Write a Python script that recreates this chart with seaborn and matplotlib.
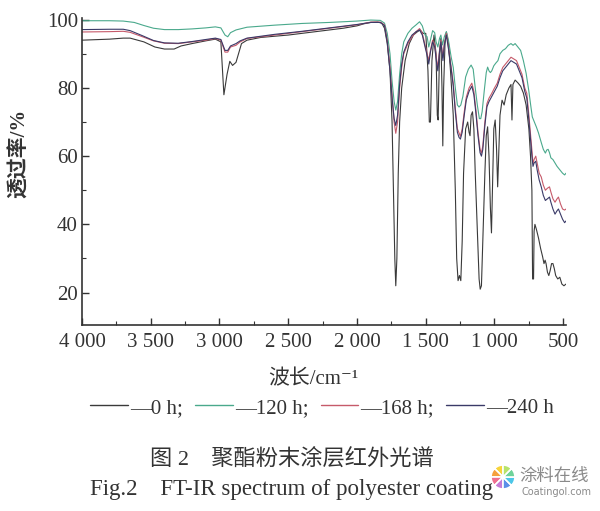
import pandas as pd
import matplotlib
matplotlib.use("Agg")
import matplotlib.pyplot as plt
from matplotlib.lines import Line2D
from matplotlib.ticker import MultipleLocator, FixedLocator, FixedFormatter
import seaborn as sns

wn_0h = [4000, 3800, 3700, 3650, 3550, 3470, 3400, 3330, 3280, 3200, 3100, 3030, 2990, 2968,
         2945, 2925, 2905, 2880, 2840, 2800, 2700, 2500, 2300, 2100, 2000, 1950, 1900, 1850,
         1820, 1800, 1780, 1760, 1745, 1735, 1725, 1718, 1710, 1700, 1690, 1675, 1650, 1620,
         1590, 1560, 1540, 1520, 1500, 1484, 1474, 1466, 1455, 1440, 1425, 1416, 1410, 1400,
         1390, 1382, 1376, 1370, 1360, 1350, 1335, 1320, 1300, 1285, 1275, 1265, 1255, 1245,
         1235, 1225, 1210, 1195, 1185, 1178, 1170, 1160, 1150, 1140, 1125, 1112, 1104, 1095,
         1085, 1070, 1060, 1050, 1040, 1030, 1022, 1015, 1005, 995, 985, 977, 970, 960, 945,
         930, 915, 895, 880, 873, 866, 850, 830, 810, 790, 770, 750, 738, 728, 723, 716, 712,
         706, 695, 680, 665, 650, 640, 632, 625, 615, 605, 595, 585, 575, 565, 555, 540, 525,
         510, 495, 480]
t_0h = [94.0, 94.3, 94.6, 94.6, 93.5, 92.0, 91.4, 91.4, 92.3, 93.0, 93.8, 94.3, 93.5, 78.0,
        84.0, 87.8, 86.6, 87.5, 93.0, 94.0, 94.8, 95.5, 96.5, 97.5, 98.2, 98.8, 99.2, 99.3,
        99.0, 97.5, 93.0, 85.0, 70.0, 50.0, 30.0, 22.0, 30.0, 55.0, 70.0, 80.0, 88.0, 93.0,
        95.5, 96.5, 97.0, 96.0, 96.0, 85.0, 70.0, 70.0, 88.0, 95.5, 90.0, 72.0, 70.6, 90.0,
        94.5, 80.0, 63.0, 80.0, 93.0, 96.4, 93.0, 85.0, 72.0, 50.0, 30.0, 23.5, 25.0, 23.5,
        35.0, 55.0, 68.0, 70.0, 67.0, 66.0, 72.0, 73.0, 68.0, 55.0, 38.0, 24.0, 21.0, 22.0,
        35.0, 55.0, 66.0, 68.6, 60.0, 45.0, 37.5, 50.0, 68.0, 70.6, 62.0, 51.0, 60.0, 72.0, 76.4,
        75.0, 78.0, 80.0, 81.0, 70.6, 81.0, 82.3, 81.5, 80.5, 78.5, 75.0, 68.0, 60.0, 50.0, 24.0,
        24.0, 38.0, 40.0, 38.5, 36.0, 33.0, 30.5, 28.5, 29.5, 28.5, 26.0, 25.0, 26.5, 28.5,
        28.5, 27.0, 25.0, 24.0, 24.5, 22.5, 22.0, 22.5]

wn_120h = [4000, 3800, 3700, 3620, 3550, 3480, 3400, 3300, 3200, 3100, 3030, 2990, 2960, 2940,
           2920, 2880, 2800, 2600, 2400, 2200, 2000, 1900, 1830, 1800, 1780, 1760, 1745, 1730,
           1718, 1705, 1690, 1675, 1660, 1630, 1600, 1570, 1545, 1525, 1505, 1490, 1478, 1466,
           1450, 1435, 1425, 1412, 1400, 1390, 1378, 1365, 1350, 1335, 1315, 1300, 1285, 1270,
           1258, 1245, 1230, 1210, 1190, 1170, 1155, 1140, 1125, 1110, 1100, 1090, 1075, 1060,
           1050, 1040, 1030, 1020, 1005, 990, 975, 960, 940, 920, 900, 880, 865, 850, 830, 810,
           790, 770, 750, 735, 725, 710, 695, 680, 660, 645, 630, 620, 610, 600, 590, 575, 560,
           545, 525, 505, 490, 480]
t_120h = [99.7, 99.7, 99.6, 99.2, 98.3, 97.5, 97.1, 97.1, 97.3, 97.6, 97.9, 97.6, 95.5, 95.0,
          96.2, 97.0, 97.8, 98.4, 98.9, 99.2, 99.6, 99.9, 99.8, 99.0, 96.0, 90.0, 82.0, 76.0,
          73.5, 76.0, 84.0, 90.0, 93.5, 96.0, 97.5, 98.5, 99.4, 98.2, 95.5, 95.0, 92.0, 94.0,
          96.8, 96.2, 93.5, 92.0, 94.5, 95.5, 92.6, 95.0, 96.5, 94.0, 89.0, 86.0, 80.0, 75.0,
          74.4, 75.0, 77.5, 83.2, 85.5, 86.7, 85.5, 80.0, 75.0, 71.0, 71.0, 73.0, 79.0, 84.5,
          86.1, 85.0, 84.5, 85.0, 86.5, 87.3, 88.0, 90.0, 91.0, 91.5, 92.5, 93.0, 92.5, 93.0,
          92.0, 91.0, 88.0, 84.3, 79.0, 74.4, 71.5, 70.0, 68.5, 66.8, 64.0, 62.0, 60.9, 61.8,
          62.0, 61.0, 59.5, 59.0, 58.0, 57.0, 56.0, 55.0, 54.5, 55.0]

wn_168h = [4000, 3800, 3700, 3650, 3560, 3480, 3400, 3300, 3200, 3100, 3030, 2990, 2960, 2940,
           2920, 2880, 2850, 2800, 2600, 2400, 2200, 2000, 1900, 1830, 1800, 1780, 1760, 1745,
           1730, 1718, 1705, 1690, 1675, 1660, 1630, 1600, 1570, 1545, 1525, 1505, 1490, 1478,
           1466, 1450, 1435, 1420, 1412, 1400, 1390, 1375, 1365, 1350, 1335, 1315, 1300, 1285,
           1270, 1258, 1248, 1235, 1220, 1205, 1185, 1165, 1150, 1135, 1120, 1105, 1095, 1085,
           1070, 1055, 1040, 1020, 1000, 980, 960, 940, 910, 880, 860, 840, 820, 800, 780, 765,
           750, 735, 728, 720, 712, 700, 690, 675, 660, 645, 630, 615, 600, 590, 575, 560, 545,
           535, 520, 505, 490, 480]
t_168h = [96.4, 96.5, 96.6, 96.3, 95.0, 93.8, 93.1, 93.0, 93.5, 94.0, 94.5, 94.0, 90.5, 90.5,
          92.0, 92.5, 93.5, 94.5, 95.5, 96.5, 97.5, 98.5, 99.3, 99.3, 98.5, 94.0, 86.0, 78.0,
          70.0, 66.7, 70.0, 80.0, 86.0, 90.0, 93.0, 95.0, 96.5, 97.4, 96.0, 92.6, 90.0, 88.1,
          91.0, 94.0, 92.6, 88.0, 86.0, 91.0, 94.0, 89.0, 93.0, 96.0, 92.0, 86.0, 81.4, 74.0,
          68.0, 66.8, 65.8, 68.0, 73.0, 77.3, 80.0, 81.4, 79.0, 73.5, 67.0, 62.0, 60.9, 63.0,
          70.0, 75.4, 77.0, 78.4, 80.0, 81.4, 84.0, 86.0, 87.5, 89.0, 88.5, 88.0, 86.0, 84.0,
          80.0, 78.4, 72.0, 65.0, 61.8, 57.9, 59.0, 60.0, 58.0, 55.0, 53.9, 51.5, 50.0, 50.6,
          51.0, 49.5, 47.5, 46.5, 47.5, 48.0, 46.0, 44.5, 44.2, 44.5]

wn_240h = wn_168h
t_240h = [97.1, 97.2, 97.2, 96.8, 95.3, 93.9, 93.2, 93.1, 93.6, 94.2, 94.6, 94.2, 91.0, 91.0,
          92.3, 93.0, 93.8, 94.6, 95.7, 96.6, 97.6, 98.6, 99.2, 99.2, 98.3, 93.5, 85.0, 77.0,
          71.0, 69.0, 72.0, 81.0, 87.0, 90.5, 93.5, 95.5, 96.5, 97.0, 95.5, 92.0, 89.5, 87.0,
          90.5, 93.5, 92.0, 87.0, 85.0, 90.5, 93.5, 88.0, 92.5, 95.5, 91.5, 85.5, 80.5, 73.0,
          67.0, 65.5, 65.0, 67.0, 72.0, 76.5, 79.0, 80.5, 78.0, 72.5, 66.0, 61.0, 60.0, 62.0,
          69.0, 74.5, 76.0, 77.5, 79.0, 80.5, 83.0, 85.0, 86.5, 88.0, 87.5, 87.0, 85.0, 83.0,
          79.0, 77.0, 70.5, 63.5, 60.0, 57.0, 58.0, 58.5, 56.0, 53.0, 51.0, 48.5, 47.0, 47.5,
          48.0, 46.5, 44.5, 43.0, 44.0, 44.5, 43.0, 41.5, 40.5, 41.0]

series = ["0 h", "120 h", "168 h", "240 h"]
colores = ["#3a3a3a", "#4aa98c", "#c65a6a", "#3a3a68"]

frames = []
for nombre, wn, t in [("0 h", wn_0h, t_0h), ("120 h", wn_120h, t_120h),
                      ("168 h", wn_168h, t_168h), ("240 h", wn_240h, t_240h)]:
    frames.append(pd.DataFrame({"wn": wn, "T": t, "serie": nombre}))
df = pd.concat(frames, ignore_index=True)

sns.set_style("ticks")
plt.rcParams['font.family'] = ['Liberation Serif', 'Noto Sans CJK SC', 'DejaVu Sans']

fig = plt.figure(figsize=(6, 5.11), dpi=100)
ax = fig.add_axes([82 / 600, 1 - 325 / 511, 484 / 600, 307 / 511])

sns.lineplot(data=df, x="wn", y="T", hue="serie", hue_order=series,
             palette=colores, sort=False, estimator=None, linewidth=0.8,
             legend=False, ax=ax)

ax.set_xlim(4000, 480)
ax.set_ylim(10.5, 100.5)
ax.set_xlabel("")
ax.set_ylabel("")
sns.despine(ax=ax)
for s in ["left", "bottom"]:
    ax.spines[s].set_linewidth(1.2)
    ax.spines[s].set_color("#333333")

ax.xaxis.set_major_locator(FixedLocator([4000, 3500, 3000, 2500, 2000, 1500, 1000, 500]))
ax.xaxis.set_major_formatter(FixedFormatter(["4 000", "3 500", "3 000", "2 500", "2 000",
                                             "1 500", "1 000", "500"]))
ax.xaxis.set_minor_locator(MultipleLocator(250))
ax.yaxis.set_major_locator(FixedLocator([20, 40, 60, 80, 100]))
ax.yaxis.set_minor_locator(MultipleLocator(10))
ax.tick_params(which="major", direction="in", length=5, width=1, colors="#333333",
               labelsize=15)
ax.tick_params(which="minor", direction="in", length=3, width=0.8, colors="#333333")
ax.tick_params(axis="x", pad=6)
ax.tick_params(axis="y", pad=3)

fig.text(20 / 600, 1 - 153 / 511, "透过率/%", rotation=90, ha="center", va="center",
         fontsize=15, color="#333333", fontweight="bold")
fig.text(313 / 600, 1 - 380 / 511, "波长/cm⁻¹", ha="center", va="center",
         fontsize=15, color="#333333")

handles = [Line2D([0], [0], color=c, lw=1.0) for c in colores]
etiquetas = ["—0 h;", "—120 h;", "—168 h;", "—240 h"]
fig.legend(handles, etiquetas, loc="center", bbox_to_anchor=(322 / 600, 1 - 408 / 511),
           ncol=4, frameon=False, handlelength=1.8, handletextpad=0.1, columnspacing=0.6,
           fontsize=15, labelcolor="#333333")

fig.text(292 / 600, 1 - 460 / 511, "图 2　聚酯粉末涂层红外光谱", ha="center", va="center",
         fontsize=16, color="#333333")
fig.text(292 / 600, 1 - 490 / 511, "Fig.2　FT-IR spectrum of polyester coating",
         ha="center", va="center", fontsize=16.5, color="#333333")

# marca de agua
icono = fig.add_axes([487 / 600, 1 - 492 / 511, 32 / 600, 30 / 511])
icono.pie([1] * 8, colors=["#f7d43a", "#f5a03c", "#ef6f8f", "#c57bd6", "#5b8fe8",
                           "#4cc6e8", "#6fd39a", "#b7e36b"],
          startangle=90, radius=1.0, wedgeprops={"linewidth": 1.2, "edgecolor": "white"})
icono.axis("off")
fig.text(519 / 600, 1 - 476 / 511, "涂料在线", ha="left", va="center", fontsize=12.5,
         color="#8a8a8a", family=["Noto Sans CJK SC"])
fig.text(521 / 600, 1 - 492 / 511, "Coatingol.com", ha="left", va="center", fontsize=7,
         color="#8a8a8a", family=["DejaVu Sans"])

fig.savefig("out.png", dpi=100)
